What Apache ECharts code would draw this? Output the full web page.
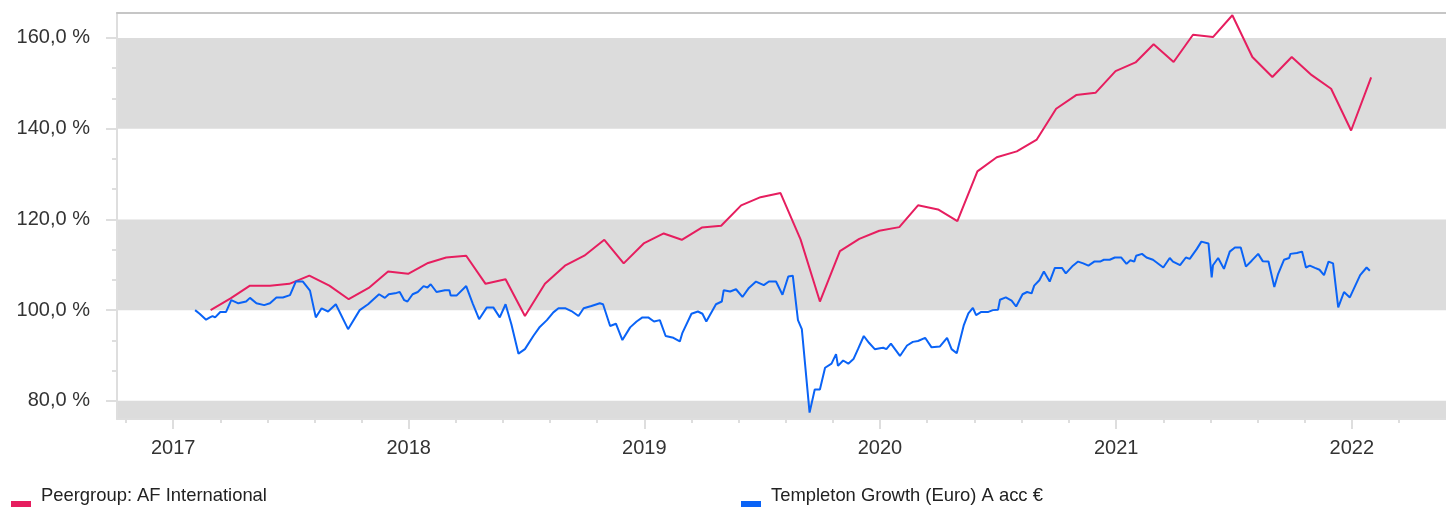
<!DOCTYPE html>
<html>
<head>
<meta charset="utf-8">
<script src="https://cdn.jsdelivr.net/npm/echarts@6/dist/echarts.min.js"></script>
<style>
  html, body { margin: 0; padding: 0; background: #fff; }
  #chart { width: 1446px; height: 508px; }
</style>
</head>
<body>
<div id="chart"></div>
<script>
const redName = 'Peergroup: AF International';
const blueName = 'Templeton Growth (Euro) A acc €';

// peergroup, month-end values
const redDates = [
  '2017-02-28','2017-03-31','2017-04-30','2017-05-31','2017-06-30','2017-07-31','2017-08-31','2017-09-30','2017-10-31','2017-11-30','2017-12-31',
  '2018-01-31','2018-02-28','2018-03-31','2018-04-30','2018-05-31','2018-06-30','2018-07-31','2018-08-31','2018-09-30','2018-10-31','2018-11-30','2018-12-31',
  '2019-01-31','2019-02-28','2019-03-31','2019-04-30','2019-05-31','2019-06-30','2019-07-31','2019-08-31','2019-09-30','2019-10-31','2019-11-30','2019-12-31',
  '2020-01-31','2020-02-29','2020-03-31','2020-04-30','2020-05-31','2020-06-30','2020-07-31','2020-08-31','2020-09-30','2020-10-31','2020-11-30','2020-12-31',
  '2021-01-31','2021-02-28','2021-03-31','2021-04-30','2021-05-31','2021-06-30','2021-07-31','2021-08-31','2021-09-30','2021-10-31','2021-11-30','2021-12-31',
  '2022-01-31'
];
const redValues = [
  100.0, 102.6, 105.4, 105.4, 105.8, 107.6, 105.4, 102.4, 104.9, 108.5, 108.0,
  110.4, 111.6, 112.0, 105.8, 106.8, 98.7, 105.8, 109.8, 112.0, 115.5, 110.3, 114.7,
  116.9, 115.5, 118.2, 118.6, 123.1, 124.9, 125.8, 115.6, 101.9, 113.0, 115.7, 117.5,
  118.3, 123.1, 122.2, 119.6, 130.6, 133.7, 135.0, 137.6, 144.4, 147.4, 147.9, 152.7,
  154.6, 158.6, 154.7, 160.7, 160.2, 165.0, 155.8, 151.4, 155.8, 151.8, 148.8, 139.6,
  151.3
];

// fund
const blueDates = [
  '2017-02-04','2017-02-11','2017-02-21','2017-02-27','2017-03-03','2017-03-07','2017-03-15','2017-03-24','2017-04-01','2017-04-12',
  '2017-04-24','2017-04-30','2017-05-10','2017-05-22','2017-05-31','2017-06-10','2017-06-20','2017-07-01','2017-07-10','2017-07-21',
  '2017-08-01','2017-08-10','2017-08-19','2017-08-29','2017-09-10','2017-09-29','2017-10-17','2017-10-30','2017-11-16','2017-11-25',
  '2017-12-01','2017-12-13','2017-12-18','2017-12-25','2017-12-30','2018-01-07','2018-01-15','2018-01-24','2018-01-30','2018-02-04',
  '2018-02-13','2018-02-26','2018-03-05','2018-03-07','2018-03-16','2018-03-31','2018-04-10','2018-04-20','2018-05-02','2018-05-12',
  '2018-05-22','2018-05-31','2018-06-09','2018-06-20','2018-06-30','2018-07-03','2018-07-13','2018-07-23','2018-08-03','2018-08-13',
  '2018-08-21','2018-09-01','2018-09-10','2018-09-21','2018-09-29','2018-10-11','2018-10-24','2018-10-29','2018-11-09','2018-11-18',
  '2018-11-28','2018-12-10','2018-12-20','2018-12-29','2019-01-07','2019-01-16','2019-01-25','2019-02-03','2019-02-15','2019-02-25',
  '2019-03-01','2019-03-15','2019-03-25','2019-04-01','2019-04-07','2019-04-22','2019-05-01','2019-05-04','2019-05-14','2019-05-23',
  '2019-06-02','2019-06-12','2019-06-23','2019-07-05','2019-07-13','2019-07-24','2019-08-03','2019-08-12','2019-08-19','2019-08-27',
  '2019-09-02','2019-09-14','2019-09-22','2019-09-30','2019-10-08','2019-10-18','2019-10-25','2019-10-28','2019-11-05','2019-11-13',
  '2019-11-21','2019-11-28','2019-12-07','2019-12-15','2019-12-24','2020-01-01','2020-01-06','2020-01-11','2020-01-18','2020-02-01',
  '2020-02-12','2020-02-21','2020-02-29','2020-03-11','2020-03-21','2020-04-03','2020-04-14','2020-04-21','2020-04-29','2020-05-10',
  '2020-05-17','2020-05-24','2020-05-29','2020-06-06','2020-06-17','2020-06-24','2020-07-02','2020-07-05','2020-07-14','2020-07-23',
  '2020-07-30','2020-08-09','2020-08-16','2020-08-23','2020-08-27','2020-09-04','2020-09-11','2020-09-20','2020-09-28','2020-10-09',
  '2020-10-15','2020-10-26','2020-11-03','2020-11-11','2020-11-19','2020-11-28','2020-12-07','2020-12-13','2020-12-22','2020-12-30',
  '2021-01-09','2021-01-17','2021-01-23','2021-01-29','2021-02-01','2021-02-10','2021-02-17','2021-02-27','2021-03-15','2021-03-25',
  '2021-03-30','2021-04-10','2021-04-19','2021-04-25','2021-05-06','2021-05-13','2021-05-24','2021-05-29','2021-05-31','2021-06-08',
  '2021-06-17','2021-06-26','2021-07-04','2021-07-13','2021-07-21','2021-07-30','2021-08-09','2021-08-16','2021-08-25','2021-09-03',
  '2021-09-09','2021-09-18','2021-09-26','2021-09-28','2021-10-08','2021-10-16','2021-10-22','2021-10-28','2021-11-05','2021-11-12',
  '2021-11-19','2021-11-26','2021-12-03','2021-12-11','2021-12-20','2021-12-29','2022-01-14','2022-01-24','2022-01-29'
];
const blueValues = [
  100.0, 99.2, 97.9, 98.4, 98.7, 98.4, 99.6, 99.6, 102.2, 101.5,
  101.9, 102.7, 101.5, 101.1, 101.5, 102.8, 102.8, 103.3, 106.3, 106.3,
  104.3, 98.4, 100.4, 99.7, 101.3, 95.8, 100.0, 101.3, 103.5, 102.7,
  103.5, 103.8, 104.0, 102.2, 101.9, 103.5, 104.0, 105.3, 105.0, 105.7,
  104.0, 104.4, 104.4, 103.2, 103.2, 105.3, 101.5, 98.0, 100.6, 100.6,
  98.4, 101.3, 96.9, 90.4, 91.4, 91.0, 94.3, 96.3, 97.8, 99.5,
  100.4, 100.4, 99.8, 98.7, 100.4, 100.9, 101.5, 101.3, 96.5, 97.0,
  93.4, 96.2, 97.5, 98.4, 98.4, 97.5, 97.8, 94.3, 93.9, 93.1,
  95.0, 99.2, 99.7, 99.2, 97.5, 101.3, 101.9, 104.4, 104.1, 104.6,
  102.9, 104.9, 106.3, 105.5, 106.3, 106.3, 103.4, 107.4, 107.6, 97.8,
  95.8, 77.4, 82.5, 82.5, 87.3, 88.2, 90.3, 87.7, 88.9, 88.2,
  89.2, 91.4, 94.3, 92.8, 91.4, 91.6, 91.7, 91.4, 92.6, 89.9,
  92.2, 93.0, 93.2, 93.9, 91.8, 92.0, 93.9, 91.4, 90.5, 96.7,
  99.3, 100.5, 98.9, 99.6, 99.6, 100.0, 100.1, 102.3, 102.8, 102.1,
  100.8, 103.5, 104.0, 103.7, 105.4, 106.6, 108.5, 106.3, 109.3, 109.3,
  108.1, 109.8, 110.7, 110.3, 109.8, 110.7, 110.7, 111.1, 111.1, 111.6,
  111.6, 110.2, 111.0, 110.7, 112.0, 112.4, 111.6, 111.1, 109.4, 111.5,
  110.7, 109.9, 111.6, 111.3, 113.5, 115.1, 114.7, 107.2, 109.9, 111.5,
  109.1, 112.9, 113.8, 113.8, 109.6, 110.9, 112.4, 110.8, 110.7, 105.1,
  108.0, 111.1, 111.5, 112.4, 112.6, 112.9, 109.4, 109.8, 109.3, 108.9,
  107.7, 110.7, 110.3, 100.6, 104.0, 102.8, 107.7, 109.4, 108.7
];

const yearTicks = ['2017-01-01', '2018-01-01', '2019-01-01', '2020-01-01', '2021-01-01', '2022-01-01'];
const yTicks = [80, 100, 120, 140, 160];
const bands = [[76, 80], [100, 120], [140, 160]];

const toTime = s => +new Date(s + 'T00:00:00');
const xMin = toTime('2016-10-06');
const xMax = toTime('2022-05-27');
const yMin = 76;
const yMax = 165.5;

const majorX = yearTicks.map(toTime);

// five parts per year
const minorX = [];
for (let y = 2016; y <= 2022; y++) {
  const a = +new Date(y, 0, 1), b = +new Date(y + 1, 0, 1);
  for (let k = 1; k < 5; k++) {
    const t = a + (b - a) * k / 5;
    if (t > xMin && t < xMax) minorX.push(t);
  }
}
// three parts between labelled ticks
const minorY = [];
for (let i = 0; i < yTicks.length - 1; i++) {
  const a = yTicks[i], b = yTicks[i + 1];
  minorY.push(a + (b - a) / 3, a + (b - a) * 2 / 3);
}

const font = 'Liberation Sans, Arial, sans-serif';
const axisGrey = '#dedede';

const chart = echarts.init(document.getElementById('chart'), null, { renderer: 'canvas' });

// legend text sits above its colour bar
const legendItem = (name, left) => ({
  data: [name], left: left, top: 482,
  icon: 'rect', itemWidth: 20, itemHeight: 6,
  selectedMode: false,
  formatter: n => '{t|' + n + '}',
  textStyle: {
    rich: {
      t: { fontFamily: font, fontSize: 18.4, color: '#222', padding: [0, 0, 16, 5] }
    }
  }
});

const option = {
  animation: false,
  grid: { left: 117, right: 0, top: 13, bottom: 89 },
  legend: [legendItem(redName, 6), legendItem(blueName, 736)],
  xAxis: [
    {
      type: 'value', min: xMin, max: xMax, z: 3,
      axisLine: { lineStyle: { color: axisGrey, width: 2 } },
      axisTick: { customValues: majorX, length: 10, lineStyle: { color: axisGrey, width: 2 } },
      axisLabel: {
        customValues: majorX, margin: 19,
        fontFamily: font, fontSize: 20, color: '#333',
        formatter: v => String(new Date(v).getFullYear())
      },
      splitLine: { show: false }
    },
    {
      type: 'value', min: xMin, max: xMax, position: 'bottom', z: 3,
      axisLine: { show: false },
      axisTick: { customValues: minorX, length: 4, lineStyle: { color: axisGrey, width: 2 } },
      axisLabel: { show: false },
      splitLine: { show: false }
    },
    {
      type: 'value', min: xMin, max: xMax, position: 'top', z: 3,
      axisLine: { lineStyle: { color: '#c6c6c6', width: 2 } },
      axisTick: { show: false },
      axisLabel: { show: false },
      splitLine: { show: false }
    }
  ],
  yAxis: [
    {
      type: 'value', min: yMin, max: yMax, position: 'left', z: 3,
      axisLine: { show: true, lineStyle: { color: axisGrey, width: 2 } },
      axisTick: { customValues: yTicks, length: 11, lineStyle: { color: axisGrey, width: 2 } },
      axisLabel: {
        customValues: yTicks, margin: 27,
        fontFamily: font, fontSize: 20, color: '#333',
        formatter: v => v.toFixed(1).replace('.', ',') + ' %'
      },
      splitLine: { show: false }
    },
    {
      type: 'value', min: yMin, max: yMax, position: 'left', offset: 0, z: 3,
      axisLine: { show: false },
      axisTick: { customValues: minorY, length: 5, lineStyle: { color: axisGrey, width: 2 } },
      axisLabel: { show: false },
      splitLine: { show: false }
    }
  ],
  series: [
    {
      name: 'bands', type: 'line', data: [], silent: true, z: 1,
      markArea: {
        silent: true,
        itemStyle: { color: '#dcdcdc' },
        data: bands.map(b => [{ yAxis: b[0] }, { yAxis: b[1] }])
      }
    },
    {
      name: redName, type: 'line', showSymbol: false, symbol: 'none',
      itemStyle: { color: '#e61e5f' },
      lineStyle: { color: '#e61e5f', width: 2 },
      data: redDates.map((d, i) => [toTime(d), redValues[i]])
    },
    {
      name: blueName, type: 'line', showSymbol: false, symbol: 'none',
      itemStyle: { color: '#0a63f6' },
      lineStyle: { color: '#0a63f6', width: 2 },
      data: blueDates.map((d, i) => [toTime(d), blueValues[i]])
    }
  ]
};

chart.setOption(option);
</script>
</body>
</html>
